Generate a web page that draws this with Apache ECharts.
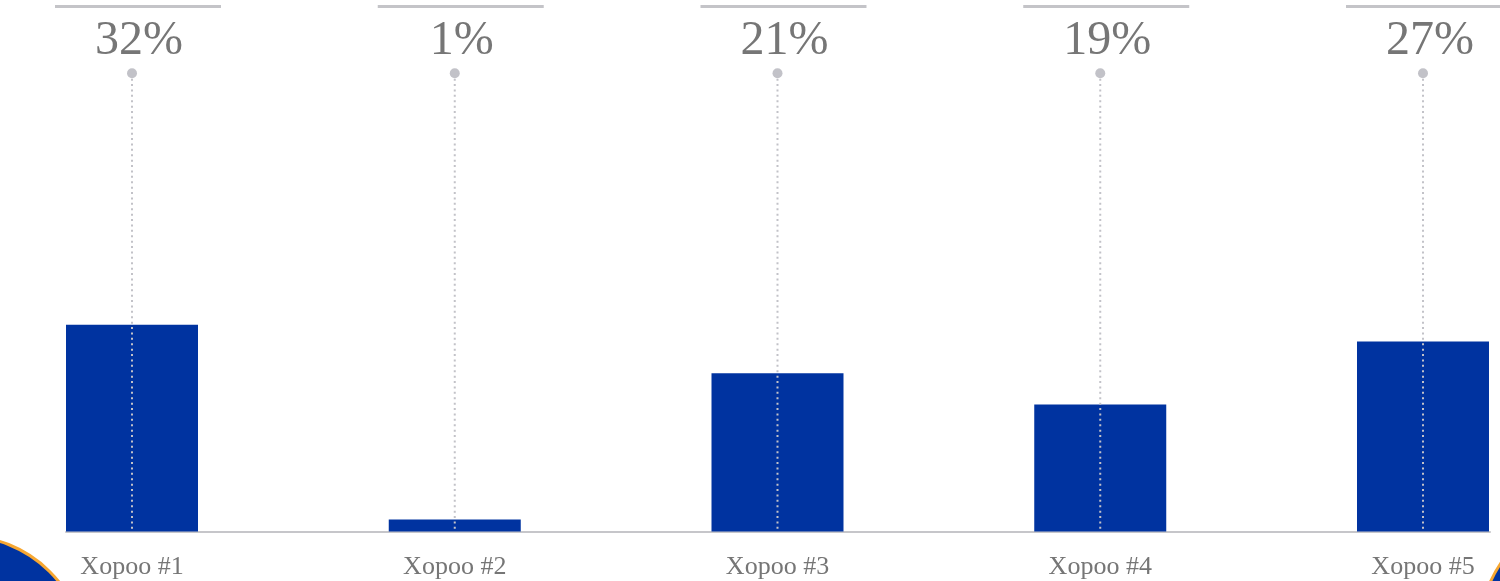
<!DOCTYPE html>
<html>
<head>
<meta charset="utf-8">
<script src="https://cdn.jsdelivr.net/npm/echarts@6/dist/echarts.min.js"></script>
<style>
html,body{margin:0;padding:0;background:#fff;}
#chart{width:1500px;height:581px;}
</style>
</head>
<body>
<div id="chart"></div>
<script>
// ---- data ----
const categories = ['Xopoo #1', 'Xopoo #2', 'Xopoo #3', 'Xopoo #4', 'Xopoo #5'];
const barValues = [31.9, 1.85, 24.4, 19.6, 29.3];
const pctLabels = ['32%', '1%', '21%', '19%', '27%'];

// ---- layout constants (not data) ----
const Y_MAX = 82;
const DOT_V = 70.7;
const LABEL_V = 75.6;
const TOPLINE_V = 81.0;
const NAVY = '#0033a0';
const ORANGE = '#f7a731';
const GREY_LINE = '#c4c4c8';
const TEXT = '#767676';

const chart = echarts.init(document.getElementById('chart'));

const option = {
  animation: false,
  backgroundColor: '#ffffff',
  grid: { left: 66, right: 10, top: 0, bottom: 49.5, containLabel: false },
  xAxis: {
    type: 'value', min: -0.2045, max: 4.2076,
    splitLine: { show: false },
    axisLine: { show: true, onZero: false, lineStyle: { color: '#c6c6ca', width: 2 } },
    axisTick: { show: false },
    axisLabel: {
      customValues: categories.map((c, i) => i),
      formatter: function (v) { return categories[Math.round(v)] || ''; },
      margin: 23, fontFamily: 'Liberation Serif', fontSize: 26, color: TEXT
    }
  },
  yAxis: { type: 'value', min: 0, max: Y_MAX, show: false, splitLine: { show: false } },
  series: [
    {
      type: 'bar',
      data: barValues.map((v, i) => [i, v]), barWidth: 132,
      itemStyle: { color: NAVY }
    },
    {
      type: 'custom', z: 5,
      data: categories.map((c, i) => [i, pctLabels[i]]),
      encode: { x: 0 },
      renderItem: function (params, api) {
        const idx = api.value(0);
        const base = api.coord([idx, 0]);
        const dot = api.coord([idx, DOT_V]);
        const lab = api.coord([idx, LABEL_V]);
        const tl = api.coord([idx, TOPLINE_V]);
        const txt = pctLabels[idx];
        return {
          type: 'group',
          children: [
            { type: 'line', shape: { x1: dot[0], y1: dot[1], x2: base[0], y2: base[1] },
              style: { stroke: '#c2c2c8', lineWidth: 2, lineDash: [2, 3.4] } },
            { type: 'circle', shape: { cx: dot[0], cy: dot[1], r: 5 },
              style: { fill: '#c2c2c8' } },
            { type: 'text', x: lab[0] + 7, y: lab[1],
              style: { text: txt, fontFamily: 'Liberation Serif', fontSize: 48, fill: TEXT,
                       align: 'center', verticalAlign: 'middle' } },
            { type: 'line', shape: { x1: tl[0] + 6 - 83, y1: tl[1], x2: tl[0] + 6 + 83, y2: tl[1] },
              style: { stroke: GREY_LINE, lineWidth: 3 } }
          ]
        };
      }
    }
  ],
  graphic: [
    { type: 'circle', shape: { cx: -36, cy: 657, r: 121 },
      style: { fill: NAVY, stroke: ORANGE, lineWidth: 3 }, z: 10 },
    { type: 'circle', shape: { cx: 1601, cy: 631, r: 121 },
      style: { fill: NAVY, stroke: ORANGE, lineWidth: 3 }, z: 10 }
  ]
};

chart.setOption(option);
</script>
</body>
</html>
